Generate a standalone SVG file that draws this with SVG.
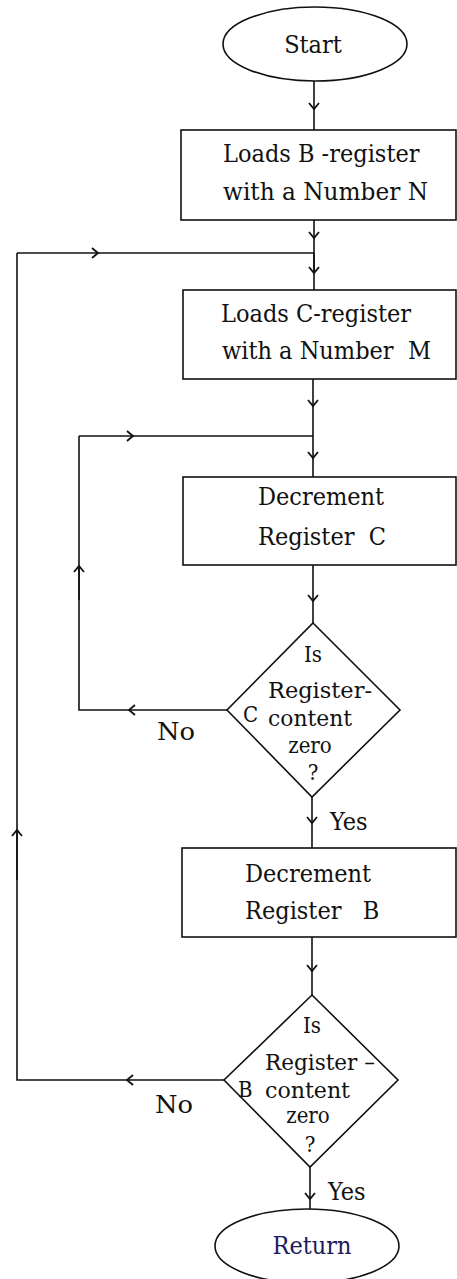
<svg xmlns="http://www.w3.org/2000/svg" width="457" height="1279" viewBox="0 0 457 1279">
<style>
.sh{fill:#fff;stroke:#111;stroke-width:1.6}
.ar{fill:none;stroke:#111;stroke-width:1.6;marker-end:url(#chev)}
.pl{fill:none;stroke:#111;stroke-width:1.6}
text{font-family:"DejaVu Serif Condensed","DejaVu Serif","Liberation Serif",serif;font-stretch:condensed;fill:#111;white-space:pre}
.t{font-size:25px}
.d{font-size:22px}
</style>
<defs>
<marker id="chev" markerUnits="userSpaceOnUse" markerWidth="14" markerHeight="14" refX="0" refY="0" viewBox="-8 -7 10 14" orient="auto" overflow="visible">
<path d="M-6,-5 L0,0 L-6,5" fill="none" stroke="#111" stroke-width="1.8"/>
</marker>
</defs>
<g id="connectors">
<path class="ar" d="M314 81 L314 109"/>
<path class="pl" d="M314 109 L314 130"/>
<path class="ar" d="M314 220 L314 238"/>
<path class="pl" d="M314 238 L314 273"/>
<path class="ar" d="M314 253 L314 273"/>
<path class="pl" d="M314 273 L314 290"/>
<path class="ar" d="M17 253 L98 253"/>
<path class="pl" d="M98 253 L314 253"/>
<path class="ar" d="M313 379 L313 406"/>
<path class="pl" d="M313 406 L313 436"/>
<path class="ar" d="M313 436 L313 458"/>
<path class="pl" d="M313 458 L313 477"/>
<path class="ar" d="M79 436 L133 436"/>
<path class="pl" d="M133 436 L313 436"/>
<path class="ar" d="M313 565 L313 601"/>
<path class="pl" d="M313 601 L313 623"/>
<path class="ar" d="M227 710 L129 710"/>
<path class="pl" d="M129 710 L79 710 L79 566"/>
<path class="ar" d="M79 600 L79 566"/>
<path class="pl" d="M79 566 L79 436"/>
<path class="ar" d="M312 797 L312 823"/>
<path class="pl" d="M312 823 L312 848"/>
<path class="ar" d="M312 937 L312 971"/>
<path class="pl" d="M312 971 L312 995"/>
<path class="ar" d="M224 1080 L127 1080"/>
<path class="pl" d="M127 1080 L17 1080 L17 830"/>
<path class="ar" d="M17 880 L17 830"/>
<path class="pl" d="M17 830 L17 253"/>
<path class="ar" d="M310 1167 L310 1199"/>
<path class="pl" d="M310 1199 L310 1210"/>
</g>
<g id="start">
<ellipse class="sh" cx="315" cy="44" rx="92" ry="37"/>
<text class="t" x="313" y="53" text-anchor="middle">Start</text>
</g>
<g id="loadB">
<rect class="sh" x="181" y="130" width="275" height="90"/>
<text class="t" x="223" y="162">Loads B -register</text>
<text class="t" x="223" y="200" textLength="205" lengthAdjust="spacingAndGlyphs">with a Number N</text>
</g>
<g id="loadC">
<rect class="sh" x="183" y="290" width="273" height="89"/>
<text class="t" x="221" y="322">Loads C-register</text>
<text class="t" x="222" y="359">with a Number  M</text>
</g>
<g id="decC">
<rect class="sh" x="183" y="477" width="273" height="88"/>
<text class="t" x="258" y="505">Decrement</text>
<text class="t" x="258" y="545">Register  C</text>
</g>
<g id="isC">
<polygon class="sh" points="313,623 400,710 312,797 227,710"/>
<text class="d" x="313" y="662" text-anchor="middle">Is</text>
<text class="d" x="268" y="698" textLength="104" lengthAdjust="spacingAndGlyphs">Register-</text>
<text class="d" x="243" y="722">C</text>
<text class="d" x="268" y="726" textLength="84" lengthAdjust="spacingAndGlyphs">content</text>
<text class="d" x="310" y="753" text-anchor="middle">zero</text>
<text class="d" x="313" y="780" text-anchor="middle">?</text>
<text class="t" x="157" y="740" textLength="38" lengthAdjust="spacingAndGlyphs">No</text>
<text class="t" x="330" y="830">Yes</text>
</g>
<g id="decB">
<rect class="sh" x="182" y="848" width="274" height="89"/>
<text class="t" x="245" y="882">Decrement</text>
<text class="t" x="245" y="919">Register   B</text>
</g>
<g id="isB">
<polygon class="sh" points="312,995 398,1080 310,1167 224,1080"/>
<text class="d" x="312" y="1033" text-anchor="middle">Is</text>
<text class="d" x="265" y="1070" textLength="110" lengthAdjust="spacingAndGlyphs">Register –</text>
<text class="d" x="238" y="1097">B</text>
<text class="d" x="265" y="1098" textLength="85" lengthAdjust="spacingAndGlyphs">content</text>
<text class="d" x="308" y="1123" text-anchor="middle">zero</text>
<text class="d" x="310" y="1152" text-anchor="middle">?</text>
<text class="t" x="155" y="1113" textLength="38" lengthAdjust="spacingAndGlyphs">No</text>
<text class="t" x="328" y="1200">Yes</text>
</g>
<g id="return">
<ellipse class="sh" cx="307" cy="1246" rx="92" ry="37"/>
<text class="t" x="312" y="1254" text-anchor="middle" style="fill:#1c1c5c">Return</text>
</g>
</svg>
